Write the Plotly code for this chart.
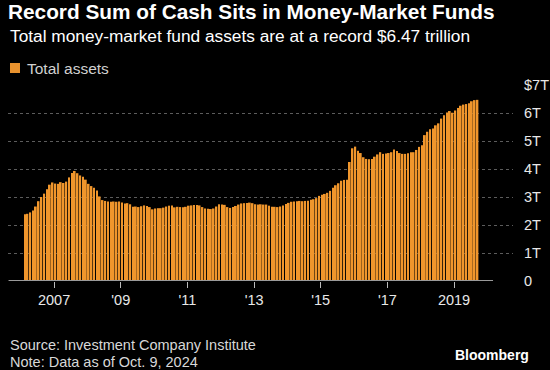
import pandas as pd
import plotly.graph_objects as go

# Monthly total money-market fund assets (trillions USD)
assets = [
    2.38, 2.40, 2.45, 2.52, 2.66, 2.85, 3.00, 3.12, 3.28, 3.44,
    3.52, 3.48, 3.47, 3.53, 3.50, 3.55, 3.70, 3.86, 3.93, 3.85,
    3.77, 3.72, 3.62, 3.47, 3.39, 3.33, 3.23, 3.02, 2.89, 2.86,
    2.84, 2.83, 2.84, 2.83, 2.84, 2.80, 2.77, 2.78, 2.74, 2.65,
    2.66, 2.64, 2.67, 2.70, 2.68, 2.64, 2.56, 2.59, 2.60, 2.60,
    2.62, 2.66, 2.69, 2.70, 2.63, 2.65, 2.64, 2.63, 2.65, 2.69,
    2.70, 2.71, 2.71, 2.70, 2.64, 2.59, 2.58, 2.57, 2.59, 2.66,
    2.74, 2.73, 2.72, 2.64, 2.61, 2.64, 2.68, 2.73, 2.77, 2.78,
    2.79, 2.80, 2.78, 2.74, 2.73, 2.74, 2.73, 2.73, 2.69, 2.65,
    2.65, 2.64, 2.66, 2.70, 2.75, 2.79, 2.83, 2.84, 2.85, 2.86,
    2.85, 2.86, 2.87, 2.90, 2.92, 2.96, 3.04, 3.08, 3.11, 3.15,
    3.22, 3.33, 3.42, 3.49, 3.58, 3.61, 3.62, 4.25, 4.74, 4.80,
    4.65, 4.57, 4.42, 4.36, 4.35, 4.36, 4.44, 4.52, 4.60, 4.54,
    4.55, 4.57, 4.60, 4.70, 4.64, 4.57, 4.54, 4.54, 4.56, 4.60,
    4.60, 4.68, 4.79, 4.85, 5.21, 5.33, 5.42, 5.45, 5.56, 5.63,
    5.80, 5.92, 6.02, 6.07, 6.01, 6.09, 6.18, 6.26, 6.30, 6.32,
    6.35, 6.42, 6.46, 6.47,
]
months = pd.date_range(start="2006-02-01", periods=len(assets), freq="MS") + pd.Timedelta(days=14)

x_tick_dates = ["2007-01-01", "2009-01-01", "2011-01-01", "2013-01-01",
                "2015-01-01", "2017-01-01", "2019-01-01"]
x_tick_labels = ["2007", "'09", "'11", "'13", "'15", "'17", "2019"]
y_tick_vals = [0, 1, 2, 3, 4, 5, 6, 7]
y_tick_labels = ["0", "1T", "2T", "3T", "4T", "5T", "6T", "$7T"]

series_name = "Total assets"
title = "Record Sum of Cash Sits in Money-Market Funds"
subtitle = "Total money-market fund assets are at a record $6.47 trillion"
source = "Source: Investment Company Institute"
note = "Note: Data as of Oct. 9, 2024"

BAR = "#f0962c"
TXT = "#e8e8e8"
FONT = "Liberation Sans"

fig = go.Figure()
fig.add_trace(go.Bar(x=months, y=assets, name=series_name,
                     marker=dict(color=BAR, line=dict(width=0)),
                     showlegend=False))

fig.update_layout(
    width=550, height=370,
    paper_bgcolor="#000000", plot_bgcolor="#000000",
    margin=dict(l=8, r=37, t=85, b=89, autoexpand=False),
    bargap=0.32,
    font=dict(family=FONT, color=TXT, size=14),
    title=dict(text="<b>" + title + "</b>", x=8 / 550, xanchor="left",
               y=1 - 4 / 370, yanchor="top",
               font=dict(family=FONT, size=20.8, color="#ffffff")),
    xaxis=dict(type="date", range=["2005-08-14", "2020-10-08"],
               tickvals=x_tick_dates, ticktext=x_tick_labels,
               showgrid=False, showline=False, zeroline=False, automargin=False,
               ticks="outside", ticklen=6, tickcolor="#bbbbbb", tickwidth=1,
               tickfont=dict(size=14.5, color=TXT)),
    yaxis=dict(side="right", range=[0, 7], tickvals=y_tick_vals, ticktext=y_tick_labels,
               showgrid=True, gridcolor="#5c5c5c", griddash="dot", gridwidth=1,
               zeroline=False, showline=False, ticks="", automargin=False,
               ticklabelstandoff=10, tickfont=dict(size=14.5, color=TXT)),
)

# baseline
fig.add_shape(type="line", xref="x", yref="y", x0="2005-08-20", x1="2020-03-03",
              y0=0, y1=0, line=dict(color="#9a9a9a", width=2))

def py(ypx):
    return (281 - ypx) / 196

def px(xpx):
    return (xpx - 8) / 505

fig.add_annotation(text=subtitle, xref="paper", yref="paper", x=px(8), y=py(36),
                   xanchor="left", yanchor="middle", showarrow=False,
                   font=dict(size=17.3, color="#ffffff"))
# legend
fig.add_shape(type="rect", xref="paper", yref="paper", x0=px(10), x1=px(20),
              y0=py(73), y1=py(63), fillcolor="#e8922e", line=dict(width=0))
fig.add_annotation(text=series_name, xref="paper", yref="paper", x=px(25), y=py(68),
                   xanchor="left", yanchor="middle", showarrow=False,
                   font=dict(size=15.5, color="#d0d0d0"))
fig.add_annotation(text=source, xref="paper", yref="paper", x=px(8), y=py(345),
                   xanchor="left", yanchor="middle", showarrow=False,
                   font=dict(size=14.5, color="#d8d8d8"))
fig.add_annotation(text=note, xref="paper", yref="paper", x=px(8), y=py(362),
                   xanchor="left", yanchor="middle", showarrow=False,
                   font=dict(size=14.5, color="#d8d8d8"))
fig.add_annotation(text="<b>Bloomberg</b>", xref="paper", yref="paper", x=px(531), y=py(355),
                   xanchor="right", yanchor="middle", showarrow=False,
                   font=dict(size=14, color="#ffffff"))

fig.write_html("out.html", config={"displayModeBar": False},
               post_script="document.body.style.margin='0px';")
